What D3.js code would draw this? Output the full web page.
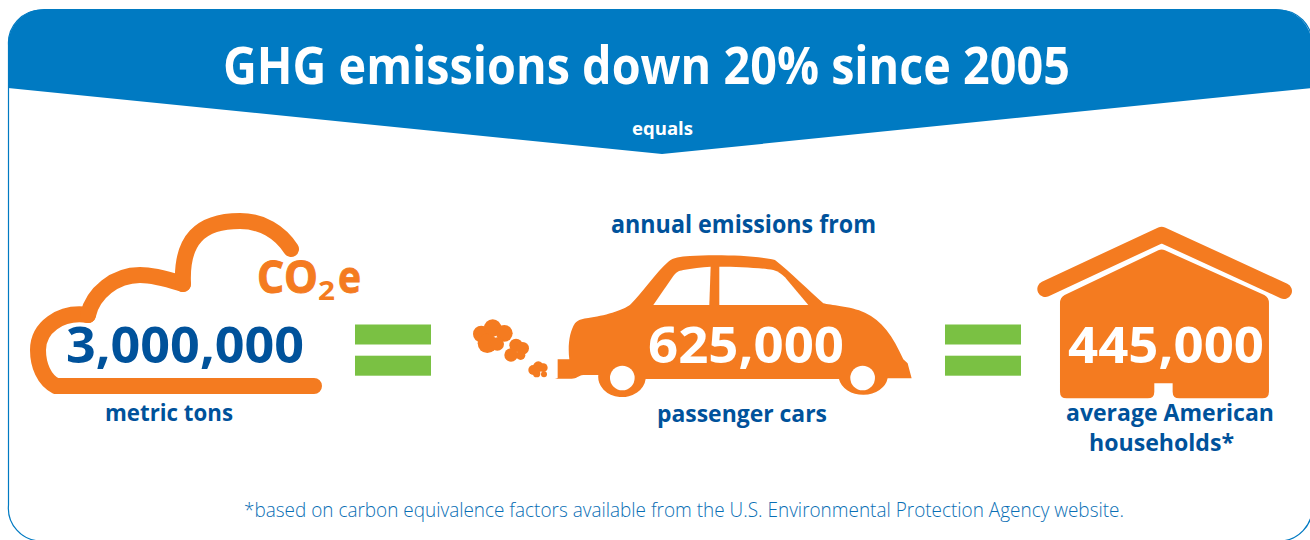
<!DOCTYPE html>
<html>
<head>
<meta charset="utf-8">
<script src="https://cdn.jsdelivr.net/npm/d3@7"></script>
<style>
  html, body { margin: 0; padding: 0; background: #fff; overflow: hidden; }
  svg { display: block; }
  text { font-family: "Open Sans", "Noto Sans", sans-serif; }
</style>
</head>
<body>
<svg width="1310" height="540"></svg>
<script>
var headline = "GHG emissions down 20% since 2005";
var connector = "equals";
var footnote = "*based on carbon equivalence factors available from the U.S. Environmental Protection Agency website.";
var amounts = ["3,000,000", "625,000", "445,000"];
var unitLabels = ["metric tons", "passenger cars", "average American", "households*"];
var carTopLabel = "annual emissions from";

var blue = "#007ac2", darkBlue = "#00529b", orange = "#f47b20", green = "#7ac143";

var svg = d3.select("svg");

function label(txt, x, y, w, size, color, weight) {
  return svg.append("text")
    .attr("x", x)
    .attr("y", y)
    .attr("font-size", size)
    .attr("font-weight", weight)
    .attr("textLength", w)
    .attr("lengthAdjust", "spacingAndGlyphs")
    .style("fill", color)
    .text(txt);
}

// outer frame
svg.append("path")
  .attr("d", "M8.5,45 A33,33 0 0 1 41,10 L1278,10 A33,33 0 0 1 1312,45 L1312,505 A33,33 0 0 1 1278,541 L41,541 A33,33 0 0 1 8.5,505 Z")
  .attr("fill", "#fff")
  .attr("stroke", blue)
  .attr("stroke-width", 1.2);

// banner
svg.append("path")
  .attr("d", "M8,88 L8,45 A36,36 0 0 1 44,9 L1276,9 A36,36 0 0 1 1312,45 L1312,88 L662,154 Z")
  .attr("fill", blue);

label(headline, 223, 84, 847, 52, "#fff", 700);
label(connector, 632, 135, 61, 17, "#fff", 700);

// cloud
var cloud = svg.append("g")
  .attr("fill", "none")
  .attr("stroke", orange)
  .attr("stroke-width", 16)
  .attr("stroke-linecap", "round")
  .attr("stroke-linejoin", "round");
cloud.append("path").attr("d", "M314,386 L56,386 C44,380 38,365 38,350 C38,328 60,311 88,315");
cloud.append("path").attr("d", "M88,315 C93,293 115,275 140,275 C155,275 170,280 183,284");
cloud.append("path").attr("d", "M183,284 C181,240 200,221 240,221 C262,221 280,232 291,249");

label("CO", 257, 293, 61, 44, orange, 700).attr("stroke", orange).attr("stroke-width", 1);
label("2", 318, 300, 17, 27, orange, 700);
label("e", 338, 293, 23, 44, orange, 700).attr("stroke", orange).attr("stroke-width", 0.8);

// equals signs
[355, 945].forEach(function(x) {
  [324.5, 355.7].forEach(function(y) {
    svg.append("rect")
      .attr("x", x)
      .attr("y", y)
      .attr("width", 76)
      .attr("height", 20)
      .attr("fill", green);
  });
});

// car, drawn at 3x and scaled down
var car = svg.append("g")
  .attr("transform", "translate(460,200) scale(0.3333)");
car.append("path")
  .attr("fill", orange)
  .attr("d", "M285,536 L293,534 L293,478 L328,478 C323,440 328,395 345,370 C355,358 370,356 385,354 C430,348 490,332 512,313 C545,280 590,215 625,185 C640,172 660,170 690,168 C760,164 880,165 945,180 C990,215 1050,275 1090,310 C1110,316 1170,318 1215,338 C1265,360 1300,410 1330,478 L1343,490 L1355,535 L1283,535 A74,58 0 0 1 1137,537 L557,537 A71,60 0 0 1 415,525 L370,525 C355,527 350,536 335,536 Z");
car.append("path")
  .attr("fill", "#fff")
  .attr("d", "M580,315 L640,228 C648,217 655,213 670,210 C695,205 725,202 752,200 L748,315 Z");
car.append("path")
  .attr("fill", "#fff")
  .attr("d", "M778,200 C830,200 900,203 940,210 C955,214 965,222 975,232 L1045,315 L778,315 Z");
[487, 1208].forEach(function(cx) {
  car.append("circle").attr("cx", cx).attr("cy", 534).attr("r", 37).attr("fill", "#fff");
});

// exhaust puffs
var puffs = [
  [64, 402, 25], [98, 384, 26], [133, 400, 25], [82, 430, 29], [112, 432, 20],
  [168, 436, 20], [188, 445, 19], [153, 465, 20], [182, 466, 14],
  [235, 500, 16], [220, 510, 15], [250, 503, 13], [230, 521, 11], [252, 523, 9]
];
car.selectAll(".puff")
  .data(puffs)
  .enter()
  .append("circle")
  .attr("class", "puff")
  .attr("cx", function(d) { return d[0]; })
  .attr("cy", function(d) { return d[1]; })
  .attr("r", function(d) { return d[2]; })
  .attr("fill", orange);

// house, same 3x scale
var house = svg.append("g")
  .attr("transform", "translate(930,210) scale(0.3333)");
house.append("path")
  .attr("fill", "none")
  .attr("stroke", orange)
  .attr("stroke-width", 48)
  .attr("stroke-linecap", "round")
  .attr("stroke-linejoin", "round")
  .attr("d", "M346,237 L695,74 L1062,243");
house.append("path")
  .attr("fill", orange)
  .attr("d", "M685,121 Q695,116 705,121 L1003,255 Q1017,262 1017,280 L1017,545 Q1017,565 997,565 L748,565 Q728,565 728,545 L728,520 L673,520 L673,545 Q673,565 653,565 L410,565 Q390,565 390,545 L390,280 Q390,262 404,255 Z");

// values and labels
label(amounts[0], 66, 363, 238, 51, darkBlue, 700);
label(amounts[1], 648, 363, 196, 51, "#fff", 700);
label(amounts[2], 1068, 363, 196, 51, "#fff", 700);

label(unitLabels[0], 105, 421, 128, 23, darkBlue, 700);
label(carTopLabel, 611, 233, 265, 25, darkBlue, 700);
label(unitLabels[1], 657, 422, 170, 23, darkBlue, 700);
label(unitLabels[2], 1066, 421, 208, 24, darkBlue, 700);
label(unitLabels[3], 1089, 451, 145, 24, darkBlue, 700);

label(footnote, 244, 517, 880, 20, "#0a6fb5", 300);
</script>
</body>
</html>
